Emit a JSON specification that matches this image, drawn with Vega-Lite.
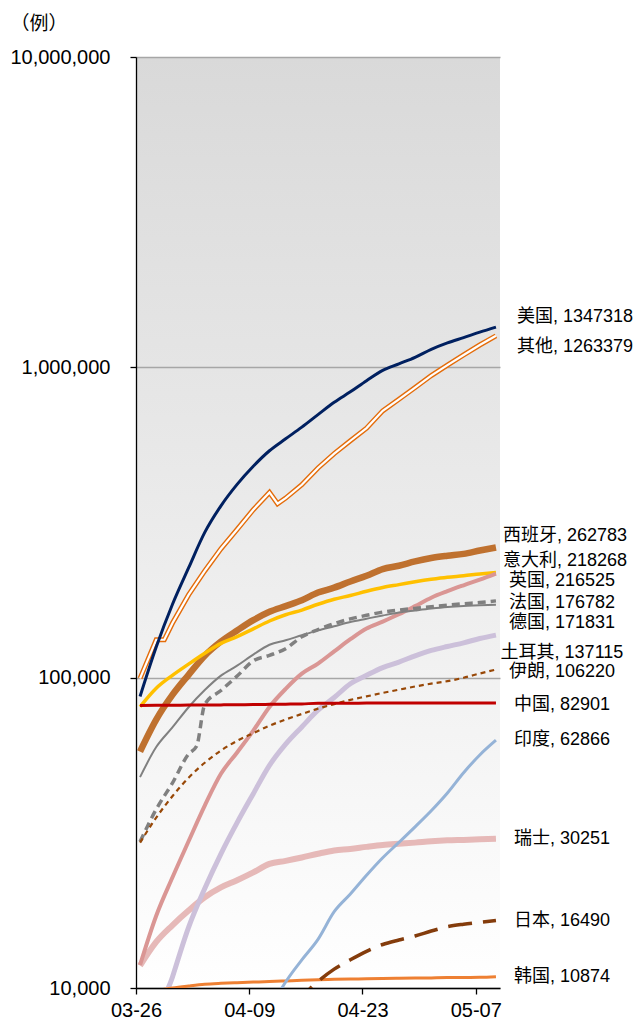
{
  "$schema": "https://vega.github.io/schema/vega-lite/v6.json",
  "width": 364,
  "height": 931,
  "autosize": {"type": "none"},
  "padding": {"left": 136, "top": 57, "right": 138, "bottom": 37},
  "background": "#FFFFFF",
  "config": {
    "font": "Liberation Sans, Noto Sans CJK SC",
    "line": {"interpolate": "monotone"},
    "view": {
      "stroke": null,
      "fill": {"gradient": "linear", "x1": 0, "y1": 0, "x2": 0, "y2": 1,
        "stops": [{"offset": 0, "color": "#D9D9D9"}, {"offset": 0.5, "color": "#EBEBEB"}, {"offset": 1, "color": "#FFFFFF"}]}
    }
  },
  "datasets": {
    "series": [
      {"d": "2020-03-26", "美国": 87000, "其他": 99500, "西班牙": 57786, "意大利": 80589, "英国": 11860, "法国": 29600, "德国": 47800, "土耳其": 2433, "伊朗": 29406, "中国": 81340, "瑞士": 11811, "韩国": 9500},
      {"d": "2020-03-28", "美国": 125600, "其他": 132500, "西班牙": 73235, "意大利": 92472, "英国": 17100, "法国": 37660, "德国": 59750, "土耳其": 7402, "伊朗": 35408, "中国": 81439, "瑞士": 14076, "韩国": 9800},
      {"d": "2020-03-29", "其他": 132500},
      {"d": "2020-03-30", "美国": 172100, "其他": 149700, "西班牙": 87956, "意大利": 101739, "英国": 22700, "法国": 45750, "德国": 69100, "土耳其": 10827, "伊朗": 41495, "中国": 81518, "瑞士": 15922, "韩国": 10000},
      {"d": "2020-04-01", "美国": 225700, "其他": 184800, "西班牙": 102136, "意大利": 110574, "英国": 29700, "法国": 56750, "德国": 80300, "土耳其": 15679, "伊朗": 47593, "中国": 81589, "瑞士": 17768, "韩国": 10150},
      {"d": "2020-04-02", "法国": 60200},
      {"d": "2020-04-03", "美国": 293800, "其他": 220800, "西班牙": 117710, "意大利": 119827, "英国": 38700, "法国": 82000, "德国": 91200, "土耳其": 20921, "伊朗": 53183, "中国": 81669, "瑞士": 19606, "韩国": 10280},
      {"d": "2020-04-05", "美国": 357900, "其他": 260200, "西班牙": 130759, "意大利": 128948, "英国": 49000, "法国": 90900, "德国": 101500, "土耳其": 27069, "伊朗": 58226, "中国": 81708, "瑞士": 21100, "韩国": 10350},
      {"d": "2020-04-07", "美国": 419700, "其他": 300400, "西班牙": 141942, "意大利": 135586, "英国": 57400, "法国": 101200, "德国": 109300, "土耳其": 34109, "伊朗": 62589, "中国": 81802, "瑞士": 22242, "韩国": 10400},
      {"d": "2020-04-09", "美国": 480100, "其他": 347700, "西班牙": 153222, "意大利": 143626, "英国": 67500, "法国": 113300, "德国": 118700, "土耳其": 42282, "伊朗": 66220, "中国": 81907, "印度": 5900, "瑞士": 23574, "日本": 5900, "韩国": 10450},
      {"d": "2020-04-11", "美国": 538500, "其他": 395300, "西班牙": 163027, "意大利": 152271, "英国": 80500, "法国": 118000, "德国": 127700, "土耳其": 52167, "伊朗": 70029, "中国": 82052, "印度": 8446, "瑞士": 25107, "日本": 7300, "韩国": 10490},
      {"d": "2020-04-12", "其他": 363500},
      {"d": "2020-04-13", "美国": 588300, "其他": 379000, "西班牙": 170099, "意大利": 159516, "英国": 92000, "法国": 124000, "德国": 132000, "土耳其": 61049, "伊朗": 73303, "中国": 82160, "印度": 10453, "瑞士": 25688, "日本": 8500, "韩国": 10537},
      {"d": "2020-04-15", "美国": 641700, "其他": 418500, "西班牙": 177633, "意大利": 165155, "英国": 103000, "法国": 135500, "德国": 137000, "土耳其": 69392, "伊朗": 76389, "中国": 82295, "印度": 12322, "瑞士": 26336, "日本": 9400, "韩国": 10591},
      {"d": "2020-04-17", "美国": 704100, "其他": 474000, "西班牙": 188000, "意大利": 172434, "英国": 111000, "法国": 142800, "德国": 142000, "土耳其": 78546, "伊朗": 79494, "中国": 82692, "印度": 14352, "瑞士": 27078, "日本": 10500, "韩国": 10635},
      {"d": "2020-04-19", "美国": 771500, "其他": 527100, "西班牙": 195000, "意大利": 178972, "英国": 121500, "法国": 149300, "德国": 146500, "土耳其": 86306, "伊朗": 82211, "中国": 82735, "印度": 17615, "瑞士": 27740, "日本": 11500, "韩国": 10661},
      {"d": "2020-04-21", "美国": 833800, "其他": 580000, "西班牙": 204178, "意大利": 183957, "英国": 133000, "法国": 154700, "德国": 151200, "土耳其": 95591, "伊朗": 84802, "中国": 82758, "印度": 20080, "瑞士": 28063, "日本": 12330, "韩国": 10683},
      {"d": "2020-04-23", "美国": 905400, "其他": 637000, "西班牙": 213024, "意大利": 189973, "英国": 144000, "法国": 158800, "德国": 154900, "土耳其": 101790, "伊朗": 87026, "中国": 82798, "印度": 23077, "瑞士": 28496, "日本": 13130, "韩国": 10708},
      {"d": "2020-04-25", "美国": 977300, "其他": 724000, "西班牙": 223759, "意大利": 195351, "英国": 151500, "法国": 162700, "德国": 158600, "土耳其": 107773, "伊朗": 89328, "中国": 82816, "印度": 26283, "瑞士": 28894, "日本": 13810, "韩国": 10728},
      {"d": "2020-04-27", "美国": 1026000, "其他": 789000, "西班牙": 229422, "意大利": 199414, "英国": 160000, "法国": 165200, "德国": 162100, "土耳其": 112261, "伊朗": 91472, "中国": 82830, "印度": 29451, "瑞士": 29164, "日本": 14280, "韩国": 10752},
      {"d": "2020-04-29", "美国": 1077000, "其他": 860500, "西班牙": 236899, "意大利": 203591, "英国": 170000, "法国": 167200, "德国": 164600, "土耳其": 117589, "伊朗": 93657, "中国": 82858, "印度": 33062, "瑞士": 29407, "日本": 14710, "韩国": 10765},
      {"d": "2020-05-01", "美国": 1143000, "其他": 940800, "西班牙": 242988, "意大利": 207428, "英国": 181000, "法国": 169200, "德国": 167000, "土耳其": 122392, "伊朗": 95646, "中国": 82874, "印度": 37257, "瑞士": 29705, "日本": 15260, "韩国": 10780},
      {"d": "2020-05-03", "美国": 1199000, "其他": 1017000, "西班牙": 247122, "意大利": 210717, "英国": 190000, "法国": 171200, "德国": 169000, "土耳其": 126045, "伊朗": 97424, "中国": 82877, "印度": 42505, "瑞士": 29905, "日本": 15760, "韩国": 10801},
      {"d": "2020-05-05", "美国": 1247000, "其他": 1096000, "西班牙": 250561, "意大利": 213013, "英国": 198500, "法国": 173100, "德国": 170300, "土耳其": 129491, "伊朗": 99970, "中国": 82881, "印度": 49400, "瑞士": 30009, "日本": 16050, "韩国": 10806},
      {"d": "2020-05-07", "美国": 1298000, "其他": 1180000, "西班牙": 256855, "意大利": 215858, "英国": 207000, "法国": 174600, "德国": 171000, "土耳其": 133721, "伊朗": 103135, "中国": 82885, "印度": 56351, "瑞士": 30126, "日本": 16270, "韩国": 10822},
      {"d": "2020-05-09", "美国": 1347318, "其他": 1263379, "西班牙": 262783, "意大利": 218268, "英国": 216525, "法国": 176782, "德国": 171831, "土耳其": 137115, "伊朗": 106220, "中国": 82901, "印度": 62866, "瑞士": 30251, "日本": 16490, "韩国": 10874}
    ],
    "labels": [
      {"c": "美国", "d": "2020-05-09", "v": 1347318, "label": "美国, 1347318"},
      {"c": "其他", "d": "2020-05-09", "v": 1263379, "label": "其他, 1263379"},
      {"c": "西班牙", "d": "2020-05-09", "v": 262783, "label": "西班牙, 262783"},
      {"c": "意大利", "d": "2020-05-09", "v": 218268, "label": "意大利, 218268"},
      {"c": "英国", "d": "2020-05-09", "v": 216525, "label": "英国, 216525"},
      {"c": "法国", "d": "2020-05-09", "v": 176782, "label": "法国, 176782"},
      {"c": "德国", "d": "2020-05-09", "v": 171831, "label": "德国, 171831"},
      {"c": "土耳其", "d": "2020-05-09", "v": 137115, "label": "土耳其, 137115"},
      {"c": "伊朗", "d": "2020-05-09", "v": 106220, "label": "伊朗, 106220"},
      {"c": "中国", "d": "2020-05-09", "v": 82901, "label": "中国, 82901"},
      {"c": "印度", "d": "2020-05-09", "v": 62866, "label": "印度, 62866"},
      {"c": "瑞士", "d": "2020-05-09", "v": 30251, "label": "瑞士, 30251"},
      {"c": "日本", "d": "2020-05-09", "v": 16490, "label": "日本, 16490"},
      {"c": "韩国", "d": "2020-05-09", "v": 10874, "label": "韩国, 10874"}
    ]
  },
  "encoding": {
    "x": {
      "field": "d", "type": "temporal", "timeUnit": "utcyearmonthdate", "bandPosition": 0.5,
      "scale": {"domain": [{"year": 2020, "month": 3, "date": 26, "utc": true}, {"year": 2020, "month": 5, "date": 10, "utc": true}], "nice": false},
      "title": null,
      "axis": {
        "values": [{"year": 2020, "month": 3, "date": 26, "utc": true}, {"year": 2020, "month": 4, "date": 9, "utc": true}, {"year": 2020, "month": 4, "date": 23, "utc": true}, {"year": 2020, "month": 5, "date": 7, "utc": true}],
        "format": "%m-%d", "grid": false, "domainColor": "#000000", "domainWidth": 1.3, "tickColor": "#000000", "tickWidth": 1.3, "tickSize": 6,
        "labelFont": "Liberation Sans", "labelFontSize": 20, "labelColor": "#000000", "labelPadding": 6, "labelFlush": false, "labelOverlap": false
      }
    },
    "y": {
      "field": "v", "type": "quantitative",
      "scale": {"type": "log", "domain": [10000, 10000000], "nice": false},
      "title": "（例）",
      "axis": {
        "values": [10000, 100000, 1000000, 10000000], "format": ",",
        "grid": true, "gridColor": "#A6A6A6", "gridWidth": 1.3,
        "domainColor": "#000000", "domainWidth": 1.3, "tickColor": "#000000", "tickWidth": 1.3, "tickSize": 6,
        "labelFont": "Liberation Sans", "labelFontSize": 20, "labelColor": "#000000", "labelPadding": 20,
        "titleAngle": 0, "titleAlign": "left", "titleBaseline": "middle", "titleX": -126, "titleY": -34,
        "titleFont": "Noto Sans CJK SC", "titleFontSize": 19, "titleFontWeight": "normal", "titleColor": "#000000"
      }
    }
  },
  "layer": [
    {
      "data": {"name": "series"},
      "transform": [
        {"fold": ["美国", "其他", "西班牙", "意大利", "英国", "法国", "德国", "土耳其", "伊朗", "中国", "印度", "瑞士", "日本", "韩国"], "as": ["c", "v"]},
        {"filter": "isValid(datum.v)"}
      ],
      "layer": [
        {"transform": [{"filter": "datum.c === '瑞士'"}], "mark": {"type": "line", "clip": true, "color": "#E6B9B8", "strokeWidth": 6}},
        {"transform": [{"filter": "datum.c === '西班牙'"}], "mark": {"type": "line", "clip": true, "color": "#BF712F", "strokeWidth": 6.5}},
        {"transform": [{"filter": "datum.c === '其他'"}], "mark": {"type": "line", "clip": true, "color": "#E46C0A", "strokeWidth": 5, "interpolate": "linear"}},
        {"transform": [{"filter": "datum.c === '其他'"}], "mark": {"type": "line", "clip": true, "color": "#FFFFFF", "strokeWidth": 2.2, "interpolate": "linear"}},
        {"transform": [{"filter": "datum.c === '意大利'"}], "mark": {"type": "line", "clip": true, "color": "#FFC000", "strokeWidth": 3.5}},
        {"transform": [{"filter": "datum.c === '英国'"}], "mark": {"type": "line", "clip": true, "color": "#DA9694", "strokeWidth": 4}},
        {"transform": [{"filter": "datum.c === '德国'"}], "mark": {"type": "line", "clip": true, "color": "#808080", "strokeWidth": 2}},
        {"transform": [{"filter": "datum.c === '法国'"}], "mark": {"type": "line", "clip": true, "color": "#808080", "strokeWidth": 3.5, "strokeDash": [8, 5]}},
        {"transform": [{"filter": "datum.c === '土耳其'"}], "mark": {"type": "line", "clip": true, "color": "#CCC0DA", "strokeWidth": 5}},
        {"transform": [{"filter": "datum.c === '伊朗'"}], "mark": {"type": "line", "clip": true, "color": "#984807", "strokeWidth": 2.2, "strokeDash": [5, 4]}},
        {"transform": [{"filter": "datum.c === '美国'"}], "mark": {"type": "line", "clip": true, "color": "#002060", "strokeWidth": 3}},
        {"transform": [{"filter": "datum.c === '韩国'"}], "mark": {"type": "line", "clip": true, "color": "#EE8033", "strokeWidth": 3}},
        {"transform": [{"filter": "datum.c === '日本'"}], "mark": {"type": "line", "clip": true, "color": "#843C0C", "strokeWidth": 3.5, "strokeDash": [24, 11]}},
        {"transform": [{"filter": "datum.c === '印度'"}], "mark": {"type": "line", "clip": true, "color": "#95B3D7", "strokeWidth": 3}},
        {"transform": [{"filter": "datum.c === '中国'"}], "mark": {"type": "line", "clip": true, "color": "#C00000", "strokeWidth": 3}}
      ]
    },
    {
      "data": {"name": "labels"},
      "encoding": {"text": {"field": "label"}},
      "layer": [
        {"transform": [{"filter": {"field": "c", "oneOf": ["美国"]}}], "mark": {"type": "text", "align": "center", "baseline": "middle", "dx": 79, "dy": -10, "fontSize": 18, "color": "#000000"}},
        {"transform": [{"filter": {"field": "c", "oneOf": ["其他"]}}], "mark": {"type": "text", "align": "center", "baseline": "middle", "dx": 79, "dy": 11, "fontSize": 18, "color": "#000000"}},
        {"transform": [{"filter": {"field": "c", "oneOf": ["西班牙", "意大利"]}}], "mark": {"type": "text", "align": "center", "baseline": "middle", "dx": 69, "dy": -11.5, "fontSize": 18, "color": "#000000"}},
        {"transform": [{"filter": {"field": "c", "oneOf": ["英国"]}}], "mark": {"type": "text", "align": "center", "baseline": "middle", "dx": 66, "dy": 7, "fontSize": 18, "color": "#000000"}},
        {"transform": [{"filter": {"field": "c", "oneOf": ["德国", "土耳其"]}}], "mark": {"type": "text", "align": "center", "baseline": "middle", "dx": 66, "dy": 18, "fontSize": 18, "color": "#000000"}},
        {"transform": [{"filter": {"field": "c", "oneOf": ["法国", "伊朗", "中国"]}}], "mark": {"type": "text", "align": "center", "baseline": "middle", "dx": 66, "dy": 2.5, "fontSize": 18, "color": "#000000"}},
        {"transform": [{"filter": {"field": "c", "oneOf": ["印度", "瑞士", "日本", "韩国"]}}], "mark": {"type": "text", "align": "center", "baseline": "middle", "dx": 66, "dy": 0, "fontSize": 18, "color": "#000000"}}
      ]
    }
  ]
}
